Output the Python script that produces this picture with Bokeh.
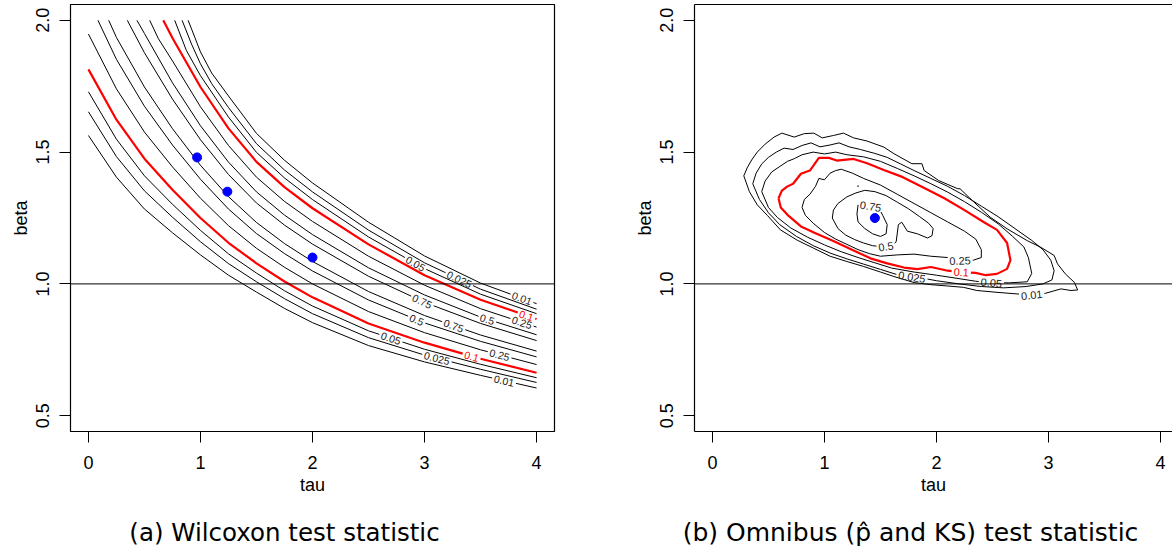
import numpy as np
from bokeh.plotting import figure
from bokeh.layouts import row, column
from bokeh.models import Range1d, FixedTicker, LinearAxis, Span, Label
from bokeh.core.properties import value
from bokeh.embed import file_html
from bokeh.resources import INLINE

# ---------------- panel (a): Wilcoxon p-value contours ----------------
# lower family (beta below the ridge)
lo001_tau = [0.0, 0.25, 0.5, 0.75, 1.0, 1.25, 1.5, 1.75, 2.0, 2.5, 3.0, 3.5, 4.0]
lo001_beta = [1.563, 1.405, 1.284, 1.194, 1.110, 1.033, 0.969, 0.907, 0.853, 0.766, 0.704, 0.653, 0.605]
lo0025_tau = [0.0, 0.25, 0.5, 0.75, 1.0, 1.25, 1.5, 1.75, 2.0, 2.5, 3.0, 3.5, 4.0]
lo0025_beta = [1.653, 1.483, 1.353, 1.253, 1.160, 1.077, 1.008, 0.944, 0.887, 0.796, 0.730, 0.676, 0.626]
lo005_tau = [0.0, 0.25, 0.5, 0.75, 1.0, 1.25, 1.5, 1.75, 2.0, 2.5, 3.0, 3.5, 4.0]
lo005_beta = [1.729, 1.549, 1.410, 1.302, 1.203, 1.114, 1.041, 0.974, 0.916, 0.822, 0.752, 0.695, 0.644]
lo01_tau = [0.0, 0.25, 0.5, 0.75, 1.0, 1.25, 1.5, 1.75, 2.0, 2.5, 3.0, 3.5, 4.0]
lo01_beta = [1.814, 1.623, 1.475, 1.357, 1.250, 1.156, 1.078, 1.009, 0.949, 0.850, 0.777, 0.716, 0.663]
lo025_tau = [0.0, 0.25, 0.5, 0.75, 1.0, 1.25, 1.5, 1.75, 2.0, 2.5, 3.0, 3.5, 4.0]
lo025_beta = [1.948, 1.740, 1.576, 1.444, 1.325, 1.221, 1.135, 1.063, 1.000, 0.895, 0.815, 0.750, 0.694]
lo05_tau = [0.085, 0.25, 0.5, 0.75, 1.0, 1.25, 1.5, 1.75, 2.0, 2.5, 3.0, 3.5, 4.0]
lo05_beta = [2.0, 1.852, 1.674, 1.527, 1.397, 1.284, 1.191, 1.115, 1.049, 0.939, 0.852, 0.782, 0.723]
lo075_tau = [0.181, 0.25, 0.5, 0.75, 1.0, 1.25, 1.5, 1.75, 2.0, 2.5, 3.0, 3.5, 4.0]
lo075_beta = [2.0, 1.935, 1.747, 1.589, 1.450, 1.331, 1.233, 1.153, 1.085, 0.971, 0.880, 0.806, 0.745]
# upper family (beta above the ridge)
up075_tau = [0.347, 0.5, 0.75, 1.0, 1.25, 1.5, 1.75, 2.0, 2.5, 3.0, 3.5, 4.0]
up075_beta = [2.0, 1.877, 1.701, 1.547, 1.415, 1.307, 1.223, 1.151, 1.029, 0.930, 0.850, 0.785]
up05_tau = [0.433, 0.5, 0.75, 1.0, 1.25, 1.5, 1.75, 2.0, 2.5, 3.0, 3.5, 4.0]
up05_beta = [2.0, 1.950, 1.763, 1.600, 1.462, 1.349, 1.261, 1.187, 1.061, 0.958, 0.874, 0.807]
up025_tau = [0.547, 0.625, 0.75, 1.0, 1.25, 1.5, 1.75, 2.0, 2.5, 3.0, 3.5, 4.0]
up025_beta = [2.0, 1.930, 1.846, 1.672, 1.525, 1.405, 1.313, 1.237, 1.105, 0.995, 0.906, 0.836]
up01_tau = [0.668, 0.75, 1.0, 1.25, 1.5, 1.75, 2.0, 2.5, 3.0, 3.5, 4.0]
up01_beta = [2.0, 1.933, 1.747, 1.590, 1.463, 1.367, 1.287, 1.150, 1.033, 0.940, 0.867]
up005_tau = [0.77, 0.875, 1.0, 1.25, 1.5, 1.75, 2.0, 2.5, 3.0, 3.5, 4.0]
up005_beta = [2.0, 1.885, 1.790, 1.633, 1.499, 1.402, 1.320, 1.178, 1.058, 0.961, 0.887]
up0025_tau = [0.836, 0.92, 1.0, 1.1, 1.25, 1.5, 1.75, 2.0, 2.5, 3.0, 3.5, 4.0]
up0025_beta = [2.0, 1.910, 1.835, 1.760, 1.669, 1.532, 1.432, 1.349, 1.204, 1.080, 0.980, 0.904]
up001_tau = [0.89, 0.95, 1.0, 1.1, 1.25, 1.5, 1.75, 2.0, 2.5, 3.0, 3.5, 4.0]
up001_beta = [2.0, 1.935, 1.880, 1.800, 1.713, 1.571, 1.469, 1.383, 1.234, 1.106, 1.003, 0.925]

WIL_LEVEL_TEXT = ["0.01", "0.025", "0.05", "0.1", "0.25", "0.5", "0.75",
                  "0.75", "0.5", "0.25", "0.1", "0.05", "0.025", "0.01"]
WIL_LABEL_TAU = [3.71, 3.11, 2.70, 3.42, 3.67, 2.93, 3.26,
                 2.98, 3.56, 3.87, 3.91, 2.92, 3.31, 3.87]
WIL_BEST_TAU = [0.97, 1.24, 2.0]
WIL_BEST_BETA = [1.48, 1.35, 1.10]

# ---------------- panel (b): omnibus p-value contours ----------------
om001_tau = [0.28, 0.31, 0.35, 0.40, 0.47, 0.55, 0.62, 0.73, 0.82, 0.905, 0.98, 1.08, 1.17, 1.26, 1.38,
             1.53, 1.62, 1.78, 1.87, 1.89, 2.02, 2.19, 2.21, 2.32, 2.48, 2.63, 2.81, 2.93, 3.05, 3.08,
             3.15, 3.23, 3.26, 3.20, 3.11, 2.97, 2.85, 2.72, 2.54, 2.36, 2.24, 2.10, 1.95, 1.80, 1.62,
             1.50, 1.35, 1.20, 1.05, 0.905, 0.756, 0.607, 0.49, 0.40, 0.33, 0.28]
om001_beta = [1.41, 1.44, 1.47, 1.50, 1.53, 1.557, 1.572, 1.557, 1.57, 1.572, 1.554, 1.563, 1.572, 1.554, 1.542,
              1.519, 1.494, 1.456, 1.456, 1.43, 1.392, 1.361, 1.361, 1.316, 1.253, 1.209, 1.164, 1.139, 1.108, 1.076,
              1.038, 1.006, 0.977, 0.975, 0.981, 0.964, 0.958, 0.962, 0.968, 0.975, 0.987, 0.992, 0.997, 1.005, 1.028,
              1.045, 1.066, 1.085, 1.105, 1.135, 1.166, 1.205, 1.26, 1.30, 1.35, 1.41]
om0025_tau = [0.36, 0.39, 0.44, 0.50, 0.57, 0.64, 0.72, 0.80, 0.88, 0.96, 1.05, 1.13, 1.22, 1.32, 1.45,
              1.56, 1.68, 1.80, 1.95, 2.10, 2.25, 2.40, 2.55, 2.70, 2.85, 2.95, 3.02, 3.05, 3.03, 2.95,
              2.80, 2.60, 2.40, 2.20, 2.00, 1.90, 1.80, 1.65, 1.50, 1.35, 1.20, 1.05, 0.90, 0.75, 0.60,
              0.50, 0.42, 0.36]
om0025_beta = [1.38, 1.42, 1.455, 1.48, 1.50, 1.515, 1.51, 1.525, 1.535, 1.52, 1.527, 1.535, 1.52, 1.51, 1.495,
               1.48, 1.455, 1.43, 1.40, 1.37, 1.335, 1.295, 1.255, 1.21, 1.165, 1.13, 1.09, 1.05, 1.015, 1.0,
               0.99, 0.985, 0.99, 1.0, 1.012, 1.02, 1.025, 1.035, 1.055, 1.075, 1.095, 1.117, 1.145, 1.18, 1.225,
               1.27, 1.32, 1.38]
om005_tau = [0.44, 0.47, 0.53, 0.60, 0.67, 0.73, 0.80, 0.90, 1.00, 1.10, 1.20, 1.35, 1.50, 1.65, 1.80,
             1.95, 2.10, 2.25, 2.40, 2.55, 2.68, 2.78, 2.82, 2.85, 2.81, 2.65, 2.50, 2.35, 2.20, 2.00,
             1.80, 1.60, 1.45, 1.30, 1.15, 1.00, 0.85, 0.70, 0.58, 0.50, 0.44]
om005_beta = [1.35, 1.39, 1.425, 1.445, 1.465, 1.475, 1.49, 1.50, 1.493, 1.50, 1.49, 1.482, 1.465, 1.438, 1.41,
              1.38, 1.348, 1.312, 1.272, 1.228, 1.18, 1.14, 1.10, 1.04, 1.008, 1.004, 1.004, 1.01, 1.02, 1.033,
              1.045, 1.06, 1.08, 1.10, 1.122, 1.148, 1.177, 1.212, 1.252, 1.29, 1.35]
om01_tau = [0.59, 0.62, 0.67, 0.72, 0.79, 0.87, 0.95, 1.04, 1.11, 1.26, 1.38, 1.53, 1.70, 1.90, 2.07,
            2.25, 2.42, 2.54, 2.63, 2.66, 2.63, 2.54, 2.44, 2.35, 2.20, 2.10, 1.95, 1.83, 1.71, 1.56,
            1.41, 1.26, 1.08, 0.93, 0.79, 0.67, 0.61, 0.59]
om01_beta = [1.325, 1.354, 1.37, 1.38, 1.418, 1.43, 1.478, 1.478, 1.468, 1.474, 1.458, 1.432, 1.405, 1.362, 1.325,
             1.28, 1.235, 1.205, 1.155, 1.09, 1.057, 1.038, 1.033, 1.042, 1.045, 1.05, 1.064, 1.056, 1.062, 1.078,
             1.097, 1.127, 1.163, 1.19, 1.218, 1.262, 1.29, 1.325]
om025_tau = [0.80, 0.82, 0.87, 0.92, 0.95, 1.00, 1.05, 1.10, 1.15, 1.25, 1.35, 1.50, 1.65, 1.80, 1.95,
             2.10, 2.25, 2.35, 2.40, 2.40, 2.33, 2.20, 2.10, 1.95, 1.80, 1.65, 1.50, 1.40, 1.30, 1.20,
             1.10, 1.00, 0.90, 0.83, 0.80]
om025_beta = [1.29, 1.32, 1.34, 1.37, 1.40, 1.395, 1.42, 1.43, 1.435, 1.42, 1.40, 1.375, 1.34, 1.305, 1.27,
              1.235, 1.20, 1.17, 1.13, 1.10, 1.09, 1.088, 1.10, 1.105, 1.113, 1.11, 1.105, 1.115, 1.13, 1.15,
              1.17, 1.195, 1.23, 1.26, 1.29]
om05_tau = [1.07, 1.08, 1.12, 1.20, 1.28, 1.36, 1.45, 1.55, 1.65, 1.75, 1.85, 1.93, 1.97, 1.96, 1.92,
            1.83, 1.74, 1.69, 1.66, 1.64, 1.60, 1.52, 1.43, 1.35, 1.27, 1.19, 1.12, 1.07]
om05_beta = [1.25, 1.28, 1.305, 1.33, 1.345, 1.355, 1.35, 1.335, 1.31, 1.285, 1.255, 1.23, 1.21, 1.183, 1.174,
             1.19, 1.20, 1.234, 1.225, 1.16, 1.145, 1.14, 1.145, 1.155, 1.168, 1.185, 1.21, 1.25]
om075_tau = [1.30, 1.29, 1.30, 1.36, 1.43, 1.50, 1.55, 1.56, 1.52, 1.49, 1.44, 1.36, 1.30]
om075_beta = [1.30, 1.265, 1.235, 1.21, 1.19, 1.18, 1.19, 1.225, 1.26, 1.285, 1.292, 1.298, 1.30]
om075_speck_tau = [1.295, 1.305]
om075_speck_beta = [1.372, 1.370]

OMNI_LEVEL_TEXT = ["0.01", "0.025", "0.05", "0.1", "0.25", "0.5", "0.75"]
OMNI_LABEL_TAU = [2.85, 1.78, 2.49, 2.22, 2.21, 1.55, 1.41]
OMNI_LABEL_BETA = [0.958, 1.025, 1.005, 1.04, 1.09, 1.14, 1.29]
OMNI_BEST_TAU = [1.45]
OMNI_BEST_BETA = [1.25]

CAPTION_A = "(a) Wilcoxon test statistic"
CAPTION_B = "(b) Omnibus (p\u0302 and KS) test statistic"

# ---------------- layout constants ----------------
X0, X1 = -0.16, 4.16
Y0, Y1 = 0.44, 2.06
FRAME_W, FRAME_H = 484, 427
SX = FRAME_W / (X1 - X0)      # px per tau unit
SY = FRAME_H / (Y1 - Y0)      # px per beta unit
LEFT_W = 624                  # width of panel (a) figure
TOTAL_W = 1172
CAP_H = 40                    # caption strip height
MAIN_H = 552 - CAP_H

AXIS_FONT = "Liberation Sans"
LAB_FONT = "Liberation Sans"
RED = "#FF0000"


def text_width(txt, size):
    return sum(0.278 if ch == "." else 0.556 for ch in txt) * size


def cut_for_label(taus, betas, lab_tau, lab_beta, txt, size):
    """Open a gap in the polyline where its label sits; return broken line + label pose."""
    x = np.asarray(taus, float) * SX
    y = np.asarray(betas, float) * SY
    lx, ly = lab_tau * SX, lab_beta * SY
    dx, dy = np.diff(x), np.diff(y)
    seg = np.hypot(dx, dy)
    cum = np.concatenate([[0.0], np.cumsum(seg)])
    best = (np.inf, 0, 0.0)
    for i in range(len(seg)):
        if seg[i] == 0:
            continue
        t = ((lx - x[i]) * dx[i] + (ly - y[i]) * dy[i]) / seg[i] ** 2
        t = min(max(t, 0.0), 1.0)
        d = np.hypot(x[i] + t * dx[i] - lx, y[i] + t * dy[i] - ly)
        if d < best[0]:
            best = (d, i, t)
    _, i, t = best
    s0 = cum[i] + t * seg[i]
    half = 0.5 * text_width(txt, size) + 2.0
    sa, sb = max(s0 - half, 0.0), min(s0 + half, cum[-1])
    xa, ya = np.interp(sa, cum, x), np.interp(sa, cum, y)
    xb, yb = np.interp(sb, cum, x), np.interp(sb, cum, y)
    ka, kb = cum < sa, cum > sb
    nx = list(x[ka]) + [xa, np.nan, xb] + list(x[kb])
    ny = list(y[ka]) + [ya, np.nan, yb] + list(y[kb])
    ang = np.arctan2(dy[i], dx[i])
    if ang > np.pi / 2:
        ang -= np.pi
    elif ang < -np.pi / 2:
        ang += np.pi
    cx = (x[i] + t * dx[i]) / SX
    cy = (y[i] + t * dy[i]) / SY
    return np.array(nx) / SX, np.array(ny) / SY, cx, cy, ang


def make_panel(x_end, frame_w, border_right, closed_box):
    p = figure(frame_width=frame_w, frame_height=FRAME_H,
               x_range=Range1d(X0, x_end), y_range=Range1d(Y0, Y1),
               output_backend="svg", toolbar_location=None,
               min_border_left=70, min_border_right=border_right,
               min_border_top=4, min_border_bottom=MAIN_H - 4 - FRAME_H,
               background_fill_color="white", border_fill_color="white")
    p.grid.visible = False
    if closed_box:
        p.outline_line_color = "black"
        p.outline_line_width = 1.2
    else:
        p.outline_line_color = None
    for ax, ticks, lab in ((p.xaxis[0], [0, 1, 2, 3, 4], "tau"),
                           (p.yaxis[0], [0.5, 1.0, 1.5, 2.0], "beta")):
        ax.ticker = FixedTicker(ticks=ticks)
        ax.axis_label = lab
        ax.axis_label_text_font = AXIS_FONT
        ax.axis_label_text_font_size = "18px"
        ax.axis_label_text_font_style = "normal"
        ax.axis_label_text_color = "black"
        ax.major_label_text_font = AXIS_FONT
        ax.major_label_text_font_size = "18px"
        ax.major_label_text_color = "black"
        ax.major_tick_out = 11
        ax.major_tick_in = 0
        ax.major_tick_line_color = "black"
        ax.minor_tick_line_color = None
        ax.axis_line_color = None if closed_box else "black"
        ax.axis_line_width = 1.2
    p.xaxis[0].major_label_overrides = {0: "0", 1: "1", 2: "2", 3: "3", 4: "4"}
    p.yaxis[0].major_label_overrides = {0.5: "0.5", 1.0: "1.0", 1.5: "1.5", 2.0: "2.0"}
    p.yaxis[0].major_label_orientation = "vertical"
    p.xaxis[0].major_label_standoff = 13
    p.xaxis[0].axis_label_standoff = 3
    p.yaxis[0].major_label_standoff = 10
    p.yaxis[0].axis_label_standoff = 3
    if not closed_box:
        top = LinearAxis(ticker=FixedTicker(ticks=[]), major_tick_out=0, major_tick_in=0,
                         major_label_standoff=0, minor_tick_out=0, minor_tick_in=0,
                         axis_line_color="black", axis_line_width=1.2,
                         major_label_text_font_size="0px")
        p.add_layout(top, "above")
    p.add_layout(Span(location=1.0, dimension="width", line_color="black", line_width=1))
    return p


def draw_contours(p, lines, texts, lab_tau, lab_beta, size):
    xs_l, ys_l, ang_l, tx_l, col_l = [], [], [], [], []
    for (taus, betas), txt, lt, lb in zip(lines, texts, lab_tau, lab_beta):
        if lb is None:
            lb = float(np.interp(lt, taus, betas))
        nx, ny, cx, cy, ang = cut_for_label(taus, betas, lt, lb, txt, size)
        red = txt == "0.1"
        p.line(nx, ny, line_color=RED if red else "black", line_width=2.2 if red else 1.0)
        xs_l.append(cx); ys_l.append(cy); ang_l.append(ang); tx_l.append(txt)
        col_l.append(RED if red else "#222222")
    p.text(x=xs_l, y=ys_l, text=tx_l, angle=ang_l, text_color=col_l,
           text_font=value(LAB_FONT), text_font_size=f"{size}px",
           text_align="center", text_baseline="middle")


def caption(width, center_x, txt, size):
    c = figure(width=width, height=CAP_H, x_range=Range1d(0, width), y_range=Range1d(0, CAP_H),
               output_backend="svg", toolbar_location=None, min_border=0,
               outline_line_color=None, background_fill_color="white", border_fill_color="white")
    c.axis.visible = False
    c.grid.visible = False
    c.add_layout(Label(x=center_x, y=CAP_H / 2, text=txt, text_align="center",
                       text_baseline="middle", text_font="DejaVu Sans",
                       text_font_size=size, text_color="black"))
    return c


# ---- panel (a)
pa = make_panel(X1, FRAME_W, LEFT_W - 70 - FRAME_W, True)
wil_lines = [(lo001_tau, lo001_beta), (lo0025_tau, lo0025_beta), (lo005_tau, lo005_beta),
             (lo01_tau, lo01_beta), (lo025_tau, lo025_beta), (lo05_tau, lo05_beta),
             (lo075_tau, lo075_beta), (up075_tau, up075_beta), (up05_tau, up05_beta),
             (up025_tau, up025_beta), (up01_tau, up01_beta), (up005_tau, up005_beta),
             (up0025_tau, up0025_beta), (up001_tau, up001_beta)]
draw_contours(pa, wil_lines, WIL_LEVEL_TEXT, WIL_LABEL_TAU, [None] * len(wil_lines), 10.5)
pa.scatter(WIL_BEST_TAU, WIL_BEST_BETA, size=9, color="#0000FF", line_color="#0000FF")

# ---- panel (b): frame runs to the window edge
fw_b = TOTAL_W - LEFT_W - 70
pb = make_panel(X0 + fw_b / SX, fw_b, 0, False)
omni_lines = [(om001_tau, om001_beta), (om0025_tau, om0025_beta), (om005_tau, om005_beta),
              (om01_tau, om01_beta), (om025_tau, om025_beta), (om05_tau, om05_beta),
              (om075_tau, om075_beta)]
draw_contours(pb, omni_lines, OMNI_LEVEL_TEXT, OMNI_LABEL_TAU, OMNI_LABEL_BETA, 11)
pb.line(om075_speck_tau, om075_speck_beta, line_color="black", line_width=1.5)
pb.scatter(OMNI_BEST_TAU, OMNI_BEST_BETA, size=9, color="#0000FF", line_color="#0000FF")

cap_a = caption(LEFT_W, 284, CAPTION_A, "24.5px")
cap_b = caption(TOTAL_W - LEFT_W, 910 - LEFT_W, CAPTION_B, "25px")

layout = column(row(pa, pb), row(cap_a, cap_b))
with open("out.html", "w") as f:
    f.write(file_html(layout, INLINE))
